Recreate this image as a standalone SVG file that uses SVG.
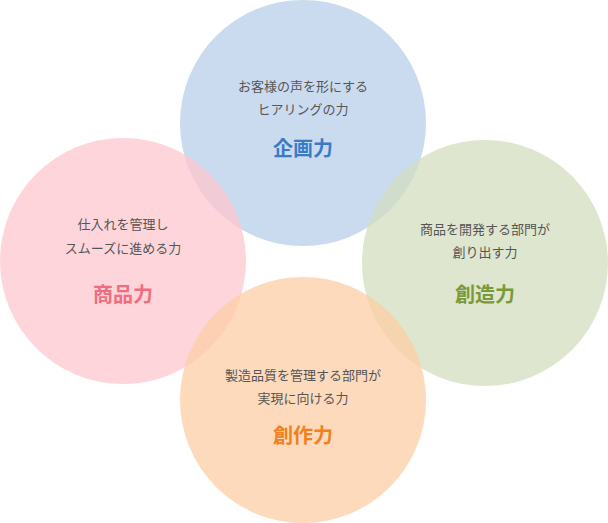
<svg xmlns="http://www.w3.org/2000/svg" width="608" height="523" viewBox="0 0 608 523">
<style>
.c{opacity:0.75}
.t{font-family:"Noto Sans CJK JP","Noto Sans",sans-serif;font-size:13px;fill:#555;text-anchor:middle}
.h{font-family:"Noto Sans CJK JP","Noto Sans",sans-serif;font-size:20px;font-weight:bold;text-anchor:middle}
</style>
<rect width="608" height="523" fill="#fff"/>
<g id="top"><circle class="c" cx="303" cy="123" r="123" fill="#b8cfe9"/></g>
<g id="left"><circle class="c" cx="123" cy="261" r="123" fill="#fdc7cf"/></g>
<g id="right"><circle class="c" cx="485" cy="263" r="123" fill="#d3ddc0"/></g>
<g id="bottom"><circle class="c" cx="303" cy="400" r="123" fill="#fdcda5"/></g>
<g id="labels">
<text class="t" x="303" y="91">お客様の声を形にする</text>
<text class="t" x="303" y="114">ヒアリングの力</text>
<text class="h" x="303" y="156" fill="#3a7bc8">企画力</text>
<text class="t" x="123" y="229">仕入れを管理し</text>
<text class="t" x="123" y="253">スムーズに進める力</text>
<text class="h" x="123" y="302" fill="#f06d80">商品力</text>
<text class="t" x="485" y="234">商品を開発する部門が</text>
<text class="t" x="485" y="257">創り出す力</text>
<text class="h" x="485" y="302" fill="#7a9a3a">創造力</text>
<text class="t" x="303" y="380">製造品質を管理する部門が</text>
<text class="t" x="303" y="403">実現に向ける力</text>
<text class="h" x="303" y="443" fill="#f08020">創作力</text>
</g>
</svg>
